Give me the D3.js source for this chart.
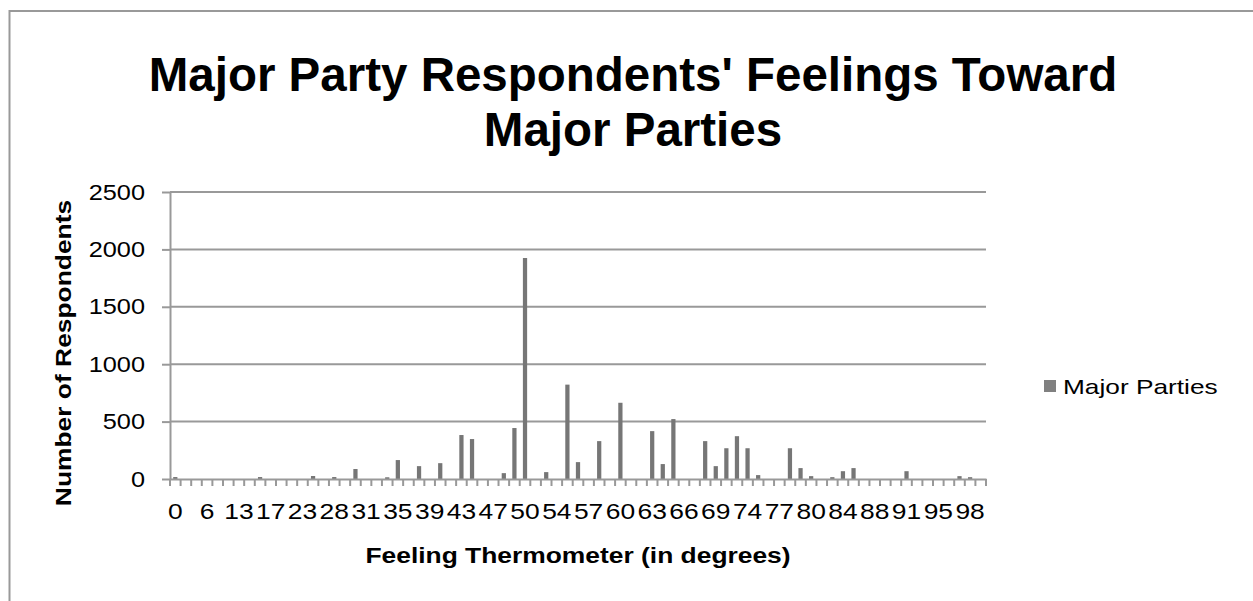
<!DOCTYPE html>
<html>
<head>
<meta charset="utf-8">
<script src="https://cdn.jsdelivr.net/npm/d3@7"></script>
<style>
  body { margin: 0; background: #fff; }
  svg { display: block; }
  text { font-family: "Liberation Sans", Arial, sans-serif; fill: #000; }
</style>
</head>
<body>
<svg id="chart" width="1253" height="601"></svg>
<script>
// Feeling thermometer readings (degrees) that occur in the survey
const categories = [0,2,4,6,8,10,13,15,16,17,19,21,23,25,26,28,29,30,31,33,34,35,37,38,39,40,42,43,45,46,47,48,49,50,52,53,54,55,56,57,58,59,60,61,62,63,64,65,66,67,68,69,70,72,74,75,76,77,78,79,80,82,83,84,85,86,88,89,90,91,93,94,95,96,97,98,100];

// Number of respondents at each reading
const respondents = [
  17,0,0,0,0,0,0,0,17,0,
  0,0,0,26,0,17,0,87,0,0,
  15,165,0,112,0,138,0,383,348,0,
  0,51,444,1925,0,60,0,822,147,0,
  330,0,664,0,0,417,130,522,0,0,
  330,112,268,373,268,34,0,0,268,95,
  25,0,16,68,95,0,0,0,0,68,
  0,0,0,0,25,16,0
];

const yTicks = [0, 500, 1000, 1500, 2000, 2500];
const labelEvery = 3;           // every third category gets a label
const seriesName = "Major Parties";
const titleLines = ["Major Party Respondents' Feelings Toward", "Major Parties"];
const xTitle = "Feeling Thermometer (in degrees)";
const yTitle = "Number of Respondents";

const W = 1253, H = 601;
const plot = { left: 170, right: 986, top: 192, bottom: 479 };
const gridColor = "#999999";
const barColor = "#767676";

const svg = d3.select("#chart");
const data = categories.map((c, i) => ({ cat: c, value: respondents[i] }));

// one slot per category; bars take the middle 40% of a slot
const slot = d3.scaleBand().domain(categories).range([plot.left, plot.right]).padding(0);
const x = d3.scaleBand().domain(categories).range([plot.left, plot.right])
  .paddingInner(0.6).paddingOuter(0.3);
const y = d3.scaleLinear().domain([0, 2500]).range([plot.bottom, plot.top]);

// chart frame
svg.append("path")
  .attr("d", `M9.5,${H + 5} V11 H${W + 5}`)
  .attr("fill", "none").attr("stroke", gridColor).attr("stroke-width", 2);

// horizontal gridlines
svg.append("g").selectAll("line")
  .data(yTicks.filter(d => d > 0)).join("line")
  .attr("x1", plot.left).attr("x2", plot.right)
  .attr("y1", d => y(d)).attr("y2", d => y(d))
  .attr("stroke", gridColor).attr("stroke-width", 2);

// bars
svg.append("g").selectAll("rect")
  .data(data.filter(d => d.value > 0)).join("rect")
  .attr("x", d => x(d.cat))
  .attr("width", x.bandwidth())
  .attr("y", d => y(d.value))
  .attr("height", d => y(0) - y(d.value))
  .attr("fill", barColor);

// y axis (line + outside ticks)
const yAxis = svg.append("g")
  .attr("transform", `translate(${plot.left},0)`)
  .call(d3.axisLeft(y).tickValues(yTicks).tickSize(8).tickSizeOuter(0).tickFormat(""));
yAxis.selectAll("path, line").attr("stroke", gridColor).attr("stroke-width", 2);

// x axis line
const xAxis = svg.append("g")
  .attr("transform", `translate(0,${plot.bottom})`)
  .call(d3.axisBottom(slot).tickSize(0).tickSizeOuter(0).tickFormat(""));
xAxis.selectAll("path").attr("stroke", gridColor).attr("stroke-width", 2);
xAxis.selectAll(".tick").remove();

// tick marks at the category boundaries
const bounds = categories.map(c => slot(c)).concat([plot.right]);
svg.append("g").selectAll("line")
  .data(bounds).join("line")
  .attr("x1", d => d).attr("x2", d => d)
  .attr("y1", plot.bottom).attr("y2", plot.bottom + 7)
  .attr("stroke", gridColor).attr("stroke-width", 2);

// y tick labels
svg.append("g").selectAll("text")
  .data(yTicks).join("text")
  .attr("transform", d => `translate(145,${y(d) + 7.5}) scale(1.15,1)`)
  .attr("text-anchor", "end")
  .style("font-size", "22px")
  .text(d => d);

// x tick labels
svg.append("g").selectAll("text")
  .data(categories.filter((c, i) => i % labelEvery === 0)).join("text")
  .attr("transform", d => `translate(${slot(d) + slot.bandwidth() / 2},519) scale(1.2,1)`)
  .attr("text-anchor", "middle")
  .style("font-size", "22px")
  .text(d => d);

// title
svg.append("g").selectAll("text")
  .data(titleLines).join("text")
  .attr("x", 633).attr("y", (d, i) => 91 + i * 55)
  .attr("text-anchor", "middle")
  .style("font-size", "47.5px").style("font-weight", "bold")
  .text(d => d);

// axis titles
svg.append("text")
  .attr("transform", `translate(578,563) scale(1.2,1)`)
  .attr("text-anchor", "middle")
  .style("font-size", "22px").style("font-weight", "bold")
  .text(xTitle);

svg.append("text")
  .attr("transform", `translate(71,353) rotate(-90) scale(1.2,1)`)
  .attr("text-anchor", "middle")
  .style("font-size", "22px").style("font-weight", "bold")
  .text(yTitle);

// legend
const legend = svg.append("g").attr("transform", "translate(1044,380)");
legend.append("rect").attr("width", 12).attr("height", 12).attr("fill", "#808080");
legend.append("text")
  .attr("transform", "translate(19,14) scale(1.25,1)")
  .style("font-size", "21px")
  .text(seriesName);
</script>
</body>
</html>
